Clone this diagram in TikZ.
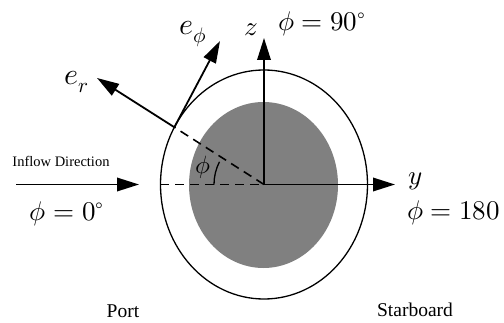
\documentclass[tikz,border=0pt]{standalone}
\usepackage{fontspec}
\setmainfont{Liberation Serif}
\usepackage{unicode-math}
\setmathfont{Latin Modern Math}
\usetikzlibrary{arrows.meta,calc}
\begin{document}
\begin{tikzpicture}[x=1pt,y=1pt,
  arr/.style={line width=1.8pt,-{Triangle[length=22pt,width=13.5pt]}},
  dsh/.style={line width=1.6pt,dash pattern=on 9pt off 6pt},
  mlab/.style={inner sep=0pt,font=\fontsize{27}{30}\selectfont},
  vlab/.style={inner sep=0pt,font=\fontsize{30}{33}\selectfont},
  tlab/.style={inner sep=0pt}]
\useasboundingbox (0,0) rectangle (504,322);
\coordinate (C) at (264,137.5);
% gray body
\fill[black!50] (263.5,137) ellipse [x radius=74.5, y radius=83];
% outer ellipse
\draw[line width=1.3pt] (C) ellipse [x radius=103.5, y radius=114.5];
\coordinate (P) at ($(C)+({103.5*cos(150)},{114.5*sin(150)})$);
% dashed lines
\coordinate (L) at (160,137.5);
\draw[dsh] (L) -- (C);
\draw[dsh] (C) -- (P);
% angle arc
\draw[line width=1.3pt] ($(C)+(180:50)$) arc[start angle=180,end angle=153,radius=50];
\node[mlab,font=\fontsize{25}{28}\selectfont] (phi) at (203,155) {$\phi$};
% axes
\coordinate (Z) at (264,284);
\coordinate (Y) at (395,137.5);
\draw[arr] (C) -- (Z);
\draw[arr] (C) -- (Y);
% unit vectors
\coordinate (Er) at (97,244);
\coordinate (Ephi) at (220,281);
\draw[arr] (P) -- (Er);
\draw[arr] (P) -- (Ephi);
% inflow
\coordinate (I1) at (16,137.5);
\coordinate (I2) at (139,137.5);
\draw[arr] (I1) -- (I2);
% labels
\node[vlab] (ephil) at (193,288) {$e_\phi$};
\node[vlab] (erl) at (77,240) {$e_r$};
\node[mlab] (zl) at (251,292) {$z$};
\node[mlab] (p90) at (322,298) {$\phi = 90^\circ$};
\node[mlab] (yl) at (415,141) {$y$};
\node[mlab,anchor=west] (p180) at (407,109) {$\phi = 180$};
\node[mlab] (p0) at (67,108) {$\phi = 0^\circ$};
\node[tlab,font=\fontsize{14.5}{16}\selectfont] (inflow) at (61,161) {Inflow Direction};
\node[tlab,font=\fontsize{19.5}{22}\selectfont] (port) at (123,11) {Port};
\node[tlab,font=\fontsize{19.5}{22}\selectfont] (star) at (415,12) {Starboard};
\end{tikzpicture}
\end{document}
